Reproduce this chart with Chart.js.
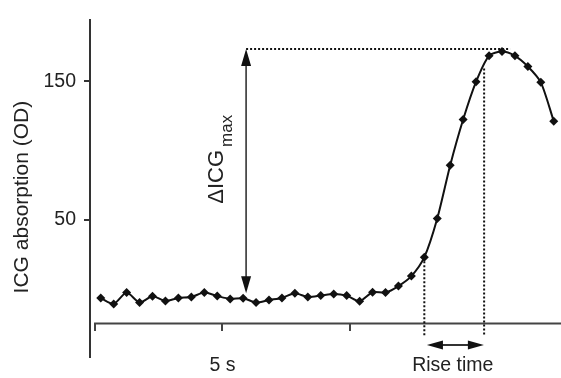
<!DOCTYPE html>
<html>
<head>
<meta charset="utf-8">
<script src="https://cdn.jsdelivr.net/npm/chart.js@4/dist/chart.umd.min.js"></script>
<style>
  body { margin: 0; background: #fff; }
  #wrap { width: 561px; height: 378px; position: relative; }
</style>
</head>
<body>
<div id="wrap"><canvas id="icg"></canvas></div>
<script>
// sample number (one sample every ~0.5 s)
const samples = [0, 1, 2, 3, 4, 5, 6, 7, 8, 9, 10, 11, 12, 13, 14, 15, 16, 17,
                 18, 19, 20, 21, 22, 23, 24, 25, 26, 27, 28, 29, 30, 31, 32, 33, 34, 35]
// ICG absorption (OD)
const absorption = [-6.6, -10.9, -2.7, -9.9, -5.4, -8.8, -6.6, -5.9, -2.7, -5.2, -7.3, -6.8,
                    -9.9, -8.1, -6.6, -3.2, -5.9, -4.9, -3.7, -4.9, -9.0, -2.5, -2.7, 2.0,
                    9.2, 22.9, 50.9, 89.4, 122.4, 149.8, 168.5, 171.6, 168.5, 160.8, 149.3, 121.2]
const yTicks = [50, 150]
const xTicks = [-0.44, 9.4, 19.23]
const xLabels = ['', '5 s', '']

const FONT = '"Liberation Sans", Arial, Helvetica, sans-serif'
const INK = '#222'

// arrows, dotted guides and labels, placed in data units
const annotations = {
    id: 'annotations',
    afterDraw(chart) {
        const ctx = chart.ctx
        const x = chart.scales.x
        const y = chart.scales.y
        const px = v => x.getPixelForValue(v)
        const py = v => y.getPixelForValue(v)

        ctx.save()
        // x axis line, starting at the first tick
        ctx.strokeStyle = '#444'
        ctx.lineWidth = 2
        ctx.beginPath()
        ctx.moveTo(px(xTicks[0]) - 1, py(-25))
        ctx.lineTo(chart.chartArea.right, py(-25))
        ctx.stroke()

        // dotted guides
        ctx.strokeStyle = '#111'
        ctx.lineWidth = 2
        ctx.setLineDash([2, 2])
        const dotted = (x1, y1, x2, y2) => {
            ctx.beginPath()
            ctx.moveTo(px(x1), py(y1))
            ctx.lineTo(px(x2), py(y2))
            ctx.stroke()
        }
        dotted(11.23, 173.5, 31.63, 173.5)
        dotted(25, 22.9, 25, -33.5)
        dotted(29.62, 159.4, 29.62, -33.5)
        ctx.setLineDash([])

        const head = (tx, ty, dx, dy, len, half) => {
            // tip at (tx,ty), pointing along (dx,dy)
            ctx.beginPath()
            ctx.moveTo(tx, ty)
            ctx.lineTo(tx - dx * len - dy * half, ty - dy * len + dx * half)
            ctx.lineTo(tx - dx * len + dy * half, ty - dy * len - dx * half)
            ctx.closePath()
            ctx.fill()
        }
        ctx.fillStyle = '#111'
        ctx.strokeStyle = '#333'

        // ΔICG max arrow
        const ax = px(11.23), aTop = py(173.5), aBot = py(-3.2)
        ctx.lineWidth = 1.6
        ctx.beginPath()
        ctx.moveTo(ax, aTop + 10)
        ctx.lineTo(ax, aBot - 10)
        ctx.stroke()
        head(ax, aTop, 0, -1, 17, 5)
        head(ax, aBot, 0, 1, 17, 5)

        // rise time arrow
        const ry = py(-40.6), rl = px(25.2), rr = px(29.6)
        ctx.lineWidth = 2
        ctx.beginPath()
        ctx.moveTo(rl + 8, ry)
        ctx.lineTo(rr - 8, ry)
        ctx.stroke()
        head(rl, ry, -1, 0, 16, 4.5)
        head(rr, ry, 1, 0, 16, 4.5)

        // labels
        ctx.fillStyle = INK
        ctx.font = '19.5px ' + FONT
        ctx.textAlign = 'center'
        ctx.textBaseline = 'middle'
        ctx.fillText('Rise time', px(27.2), py(-55.8))

        ctx.translate(px(9.45), py(61.5))
        ctx.rotate(-Math.PI / 2)
        ctx.textAlign = 'left'
        ctx.textBaseline = 'alphabetic'
        ctx.font = '22px ' + FONT
        ctx.fillText('\u0394ICG', 0, 0)
        const w = ctx.measureText('\u0394ICG').width
        ctx.font = '17px ' + FONT
        ctx.fillText('max', w + 3, 9)
        ctx.restore()
    }
}

new Chart(document.getElementById('icg'), {
    type: 'line',
    data: {
        datasets: [{
            data: samples.map((s, i) => ({x: s, y: absorption[i]})),
            borderColor: '#111',
            borderWidth: 2,
            tension: 0.25,
            pointStyle: 'rectRot',
            pointRadius: 4.5,
            pointBackgroundColor: '#111',
            pointBorderWidth: 0,
            clip: false
        }]
    },
    options: {
        responsive: true,
        maintainAspectRatio: false,
        animation: false,
        layout: {autoPadding: false, padding: {top: 18, bottom: 21, left: 0, right: 0}},
        plugins: {legend: {display: false}, tooltip: {enabled: false}},
        scales: {
            x: {
                type: 'linear',
                position: {y: -25},
                min: -0.83,
                max: 35.56,
                afterFit(scale) { scale.height = 0 },
                afterBuildTicks(scale) { scale.ticks = xTicks.map(v => ({value: v})) },
                border: {display: false},
                grid: {drawOnChartArea: false, drawTicks: true, tickLength: 8, color: '#444', lineWidth: 2},
                ticks: {
                    autoSkip: false,
                    maxRotation: 0,
                    padding: 23,
                    color: INK,
                    font: {family: FONT, size: 19.5},
                    callback: (v, i) => xLabels[i]
                }
            },
            y: {
                position: 'left',
                min: -49.3,
                max: 194.6,
                afterFit(scale) { scale.width = 90 },
                afterBuildTicks(scale) { scale.ticks = yTicks.map(v => ({value: v})) },
                border: {display: true, color: '#333', width: 2},
                grid: {drawOnChartArea: false, drawTicks: true, tickLength: 6, color: '#333', lineWidth: 2},
                ticks: {padding: 8, color: INK, font: {family: FONT, size: 19.5}},
                title: {
                    display: true,
                    text: 'ICG absorption (OD)   ',
                    color: INK,
                    font: {family: FONT, size: 21},
                    padding: {top: 10, bottom: 0}
                }
            }
        }
    },
    plugins: [annotations]
})
</script>
</body>
</html>
